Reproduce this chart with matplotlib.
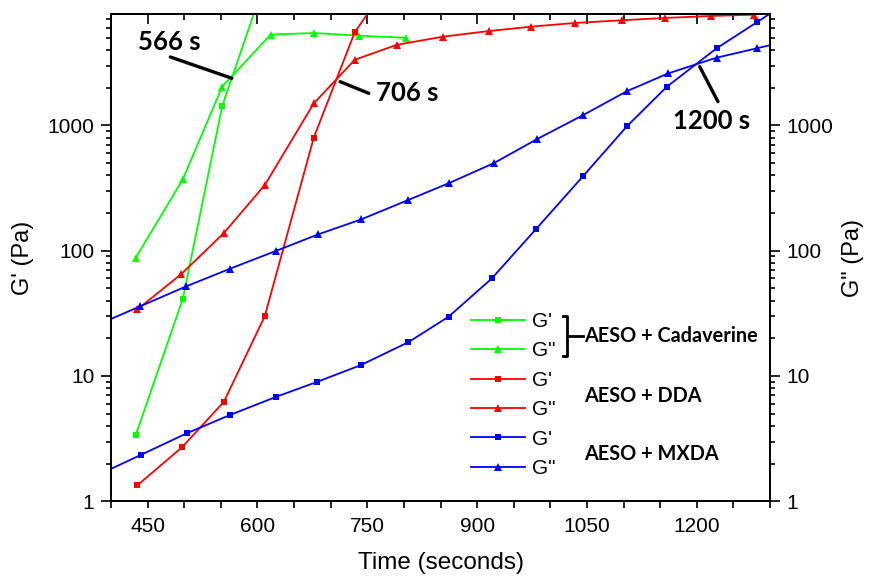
import matplotlib
matplotlib.use("Agg")
import matplotlib.pyplot as plt
from matplotlib.lines import Line2D
from matplotlib.ticker import FixedLocator, NullFormatter, LogLocator, FixedFormatter

# ---------------- data ----------------
cad_gp_t = [434, 498, 552, 615]
cad_gp = [3.4, 41, 1430, 17000]
cad_gpp_t = [434, 498, 552, 618, 677, 739, 803]
cad_gpp = [88, 370, 2040, 5300, 5460, 5200, 5000]

dda_gp_t = [436, 497, 554, 610, 677, 733, 790]
dda_gp = [1.34, 2.7, 6.2, 30, 800, 5560, 16600]
dda_gpp_t = [436, 496, 554, 610, 677, 733, 790, 853, 916, 973, 1034, 1098, 1157, 1220, 1278]
dda_gpp = [34, 65, 138, 334, 1500, 3340, 4390, 5100, 5660, 6130, 6570, 6900, 7200, 7470, 7650]

mx_gp_t = [380, 441, 504, 563, 625, 682, 741, 806, 861, 920, 981, 1045, 1105, 1159, 1227, 1282, 1340]
mx_gp = [1.6, 2.35, 3.5, 4.9, 6.8, 9.0, 12.2, 18.6, 29.7, 60, 150, 395, 990, 2030, 4120, 6650, 11100]
mx_gpp_t = [380, 440, 503, 563, 626, 683, 742, 806, 861, 923, 982, 1045, 1105, 1161, 1227, 1282, 1340]
mx_gpp = [25.4, 36, 52, 72, 100, 135, 178, 254, 345, 500, 778, 1210, 1880, 2600, 3470, 4120, 4970]

x_major = [450, 600, 750, 900, 1050, 1200]
x_minor = list(range(400, 1301, 50))
y_major = [1, 10, 100, 1000]
y_labels = ["1", "10", "100", "1000"]

ann_texts = ["566 s", "706 s", "1200 s"]
ann_text_xy = [(479, 4650), (804, 1824), (1220, 1090)]
ann_line_start = [(481, 3515), (713, 2233), (1204, 2941)]
ann_line_end = [(565, 2377), (752, 1803), (1229, 1545)]

group_labels = ["AESO + Cadaverine", "AESO + DDA", "AESO + MXDA"]

GREEN = "#00ff00"
RED = "#ff0000"
BLUE = "#0000ff"

TICKFONT = "Liberation Sans"
BOLDFONT = "Lato"

W, H = 869, 577
fig = plt.figure(figsize=(W / 100, H / 100), dpi=100)
ax = fig.add_axes([111 / W, (H - 501.3) / H, (770 - 111) / W, (501.3 - 14.3) / H])

lw = 1.3
sq = dict(marker="s", markersize=5)
tri = dict(marker="^", markersize=6)

series = [
    (cad_gp_t, cad_gp, GREEN, sq, "G'"),
    (cad_gpp_t, cad_gpp, GREEN, tri, 'G"'),
    (dda_gp_t, dda_gp, RED, sq, "G'"),
    (dda_gpp_t, dda_gpp, RED, tri, 'G"'),
    (mx_gp_t, mx_gp, BLUE, sq, "G'"),
    (mx_gpp_t, mx_gpp, BLUE, tri, 'G"'),
]
handles = []
for t, v, c, m, lab in series:
    h, = ax.plot(t, v, color=c, lw=lw, markeredgewidth=0, label=lab, **m)
    handles.append(h)

ax.set_yscale("log")
ax.set_xlim(400, 1300)
ax.set_ylim(1, 7700)

# x ticks
ax.xaxis.set_major_locator(FixedLocator(x_major))
ax.xaxis.set_minor_locator(FixedLocator([v for v in x_minor if v not in x_major]))
ax.tick_params(axis="x", which="both", direction="out", top=False, length=5, width=1.2,
               labelsize=15, pad=6)
# y ticks
ax.yaxis.set_major_locator(FixedLocator(y_major))
ax.yaxis.set_major_formatter(FixedFormatter(y_labels))
ax.yaxis.set_minor_locator(LogLocator(base=10, subs=range(2, 10)))
ax.yaxis.set_minor_formatter(NullFormatter())
ax.tick_params(axis="y", which="major", direction="out", length=7, width=1.2, labelsize=15, pad=5)
ax.tick_params(axis="y", which="minor", direction="out", length=3.8, width=1.2)
for lab in ax.get_xticklabels() + ax.get_yticklabels():
    lab.set_fontfamily(TICKFONT)
for s in ax.spines.values():
    s.set_linewidth(1.4)

# top mirrored ticks (inward)
top = ax.secondary_xaxis("top")
top.xaxis.set_major_locator(FixedLocator(x_major))
top.xaxis.set_minor_locator(FixedLocator([v for v in x_minor if v not in x_major]))
top.tick_params(axis="x", which="major", direction="in", length=7, width=1.2, labeltop=False)
top.tick_params(axis="x", which="minor", direction="in", length=4, width=1.2)
top.spines["top"].set_linewidth(1.4)

# right axis
ax2 = ax.twinx()
ax2.set_yscale("log")
ax2.set_ylim(ax.get_ylim())
ax2.yaxis.set_major_locator(FixedLocator(y_major))
ax2.yaxis.set_major_formatter(FixedFormatter(y_labels))
ax2.yaxis.set_minor_locator(LogLocator(base=10, subs=range(2, 10)))
ax2.yaxis.set_minor_formatter(NullFormatter())
ax2.tick_params(axis="y", which="major", direction="out", length=7, width=1.2, labelsize=15, pad=5)
ax2.tick_params(axis="y", which="minor", direction="out", length=3.8, width=1.2)
for lab in ax2.get_yticklabels():
    lab.set_fontfamily(TICKFONT)
for s in ax2.spines.values():
    s.set_linewidth(1.4)

# axis labels
ax.set_xlabel("Time (seconds)", fontsize=17.5, family=TICKFONT)
ax.xaxis.set_label_coords(0.5008, -0.104)
ax.set_ylabel("G' (Pa)", fontsize=17, family=TICKFONT)
ax.yaxis.set_label_coords(-0.117, 0.5)
ax2.set_ylabel('G" (Pa)', fontsize=17, family=TICKFONT)
ax2.yaxis.set_label_coords(1.109, 0.5)

# annotations
for txt, txy, p0, p1 in zip(ann_texts, ann_text_xy, ann_line_start, ann_line_end):
    ax.annotate("", xy=p1, xytext=p0,
                arrowprops=dict(arrowstyle="-", lw=2.4, color="black", shrinkA=0, shrinkB=0))
    ax.text(txy[0], txy[1], txt, ha="center", va="center", fontsize=18.5,
            family=BOLDFONT, fontweight="bold")

# legend
leg = ax.legend(handles=handles, loc="upper left", bbox_to_anchor=(471 / W, 1 - 312 / H),
                bbox_transform=fig.transFigure, frameon=False,
                prop=dict(family=TICKFONT, size=15), handlelength=2.6,
                handletextpad=0.34, labelspacing=0.5, borderpad=0, borderaxespad=0)


def fx(px):
    return px / W


def fy(py):
    return 1 - py / H


# bracket for Cadaverine
bl = dict(color="black", lw=2.0, transform=fig.transFigure)
fig.add_artist(Line2D([fx(563), fx(567), fx(567), fx(563)], [fy(316), fy(316), fy(356), fy(356)], **bl))
fig.add_artist(Line2D([fx(567), fx(583)], [fy(336), fy(336)], **bl))

group_y = [336, 395.7, 454.3]
for lab, gy in zip(group_labels, group_y):
    fig.text(fx(584), fy(gy), lab, ha="left", va="center", fontsize=14.3,
             family=BOLDFONT, fontweight="bold")

fig.savefig("out.png", dpi=100)
